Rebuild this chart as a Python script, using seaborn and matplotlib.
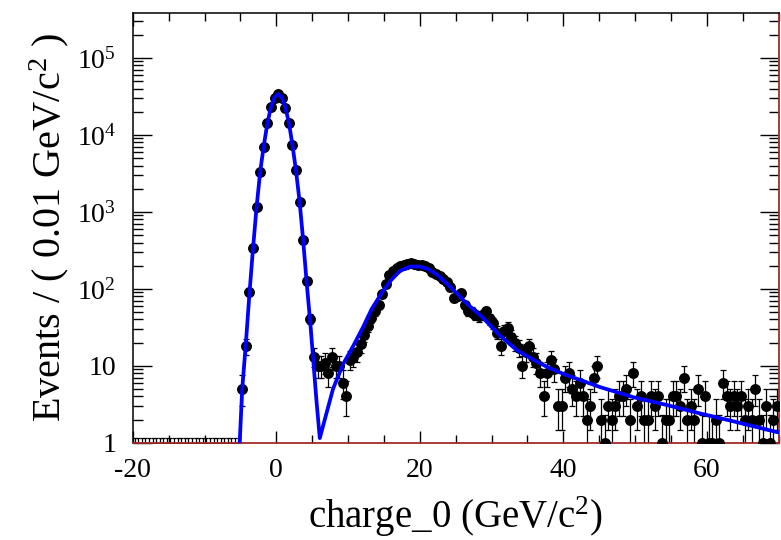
import matplotlib
matplotlib.use("Agg")
import matplotlib.pyplot as plt
import matplotlib.ticker as mticker
import numpy as np
import seaborn as sns

# histogram: 180 bins of 0.5 GeV/c^2 between -20 and 70
bin_lo = -20.0
bin_width = 0.5
counts = [
    0, 0, 0, 0, 0, 0, 0, 0, 0, 0,
    0, 0, 0, 0, 0, 0, 0, 0, 0, 0,
    0, 0, 0, 0, 0, 0, 0, 0, 0, 0,
    5, 18, 90, 340, 1150, 3300, 7000, 14400, 23000, 30500,
    33500, 30000, 22400, 14400, 7400, 3500, 1340, 430, 125, 41,
    13, 10, 10, 11, 8, 13, 10, 10, 6, 4,
    12, 13, 15, 19, 25, 33, 42, 52, 62, 85,
    115, 150, 170, 186, 198, 205, 212, 215, 208, 204,
    204, 198, 186, 165, 158, 145, 135, 124, 105, 76,
    80, 88, 62, 51, 50, 46, 44, 46, 51, 40,
    36, 27, 18, 28, 31, 24, 20, 17, 10, 15,
    18, 13, 11, 8, 4, 8, 12, 9, 3, 3,
    7, 8, 5, 4, 6, 4, 2, 3, 7, 10,
    2, 1, 3, 2, 3, 4, 4, 5, 2, 8,
    3, 4, 2, 2, 4, 3, 4, 1, 2, 2,
    4, 4, 3, 7, 2, 3, 2, 5, 1, 4,
    1, 1, 2, 1, 6, 4, 3, 4, 3, 4,
    2, 3, 2, 5, 2, 1, 3, 1, 2, 3,
]

# fitted model curve
curve_x = [-5.15, -4.75, -4.25, -3.75, -3.25, -2.75, -2.25, -1.75, -1.25, -0.75,
           -0.25, 0.25, 0.75, 1.25, 1.75, 2.25, 2.75, 3.25, 3.75, 4.25,
           4.75, 5.25, 5.6, 6.06, 7.9, 9.3, 10.7, 12.1, 13.3, 14.9,
           16.0, 17.2, 18.6, 20.0, 21.2, 22.5, 24.2, 26.5, 28.8, 31.1,
           33.5, 35.8, 38.1, 40.4, 45.1, 49.8, 54.4, 59.1, 63.7, 70.0]
curve_y = [0.8, 5, 19, 85, 330, 1150, 3300, 7200, 14000, 23000,
           31000, 34000, 31000, 23000, 14500, 7400, 3400, 1350, 420, 115,
           35, 9, 3.5, 1.15, 5, 10.5, 18, 32, 55, 95,
           130, 170, 195, 195, 180, 150, 107, 65, 42, 25,
           16, 12, 9.3, 7.6, 5.3, 3.9, 3.1, 2.4, 1.9, 1.36]

y_ticks = [1, 10, 100, 1e3, 1e4, 1e5]
y_tick_labels = ["1", "10", r"$\mathregular{10^{2}}$", r"$\mathregular{10^{3}}$",
                 r"$\mathregular{10^{4}}$", r"$\mathregular{10^{5}}$"]

sns.set_theme(style="ticks")
plt.rcParams["font.family"] = ["Liberation Serif", "DejaVu Serif"]
plt.rcParams["mathtext.fontset"] = "custom"
plt.rcParams["mathtext.rm"] = "Liberation Serif"
plt.rcParams["axes.unicode_minus"] = False
plt.rcParams["text.color"] = "black"
plt.rcParams["axes.labelcolor"] = "black"

counts = np.array(counts, dtype=float)
centers = bin_lo + bin_width * (np.arange(len(counts)) + 0.5)
filled = counts > 0
n = counts[filled]
x = centers[filled]
err_lo = n - np.clip(n - np.sqrt(n) + 0.2, 0.15, None)
err_hi = np.sqrt(n) + 0.3
empty_x = centers[~filled & (centers < -5)]

fig, ax = plt.subplots(figsize=(7.81, 5.40), dpi=100)
fig.subplots_adjust(left=0.170, right=0.997, bottom=0.180, top=0.976)

# empty bins drawn as stubs on the bottom edge
ax.errorbar(empty_x, np.ones(len(empty_x)),
            yerr=[np.zeros(len(empty_x)), np.full(len(empty_x), 0.16)],
            fmt="none", ecolor="black", elinewidth=0.9, capsize=1.6, capthick=0.9, zorder=2)

ax.errorbar(x, n, yerr=[err_lo, err_hi], fmt="none", ecolor="black",
            elinewidth=0.9, capsize=2.4, capthick=0.9, zorder=2)
sns.scatterplot(x=x, y=n, color="black", s=62, edgecolor="black", linewidth=0,
                ax=ax, zorder=3)
sns.lineplot(x=curve_x, y=curve_y, sort=False, estimator=None, color="#0000ff",
             linewidth=2.7, ax=ax, zorder=4)

ax.set_yscale("log")
ax.set_xlim(-20, 70)
ax.set_ylim(1, 3.84e5)

ax.xaxis.set_major_locator(mticker.MultipleLocator(20))
ax.xaxis.set_minor_locator(mticker.MultipleLocator(5))
ax.yaxis.set_major_locator(mticker.FixedLocator(y_ticks))
ax.yaxis.set_major_formatter(mticker.FixedFormatter(y_tick_labels))
ax.yaxis.set_minor_locator(mticker.LogLocator(base=10, subs=np.arange(2, 10)))
ax.yaxis.set_minor_formatter(mticker.NullFormatter())

ax.tick_params(which="both", direction="in", top=True, right=True,
               width=1.0, labelsize=20, colors="black")
ax.tick_params(axis="x", which="major", length=9, pad=11)
ax.tick_params(axis="x", which="minor", length=6)
ax.tick_params(axis="y", which="major", length=14, pad=12)
ax.tick_params(axis="y", which="minor", length=7)

for side in ["left", "top"]:
    ax.spines[side].set_color("black")
    ax.spines[side].set_linewidth(1.1)
for side in ["bottom", "right"]:
    ax.spines[side].set_color("#a52a2a")
    ax.spines[side].set_linewidth(1.3)

ax.set_xlabel(r"charge_0 (GeV/c$\mathregular{^{2}}$)", fontsize=28, labelpad=8)
ax.set_ylabel(r"Events / ( 0.01 GeV/c$\mathregular{^{2}}$ )", fontsize=29, labelpad=4)

fig.savefig("out.png", dpi=100)
